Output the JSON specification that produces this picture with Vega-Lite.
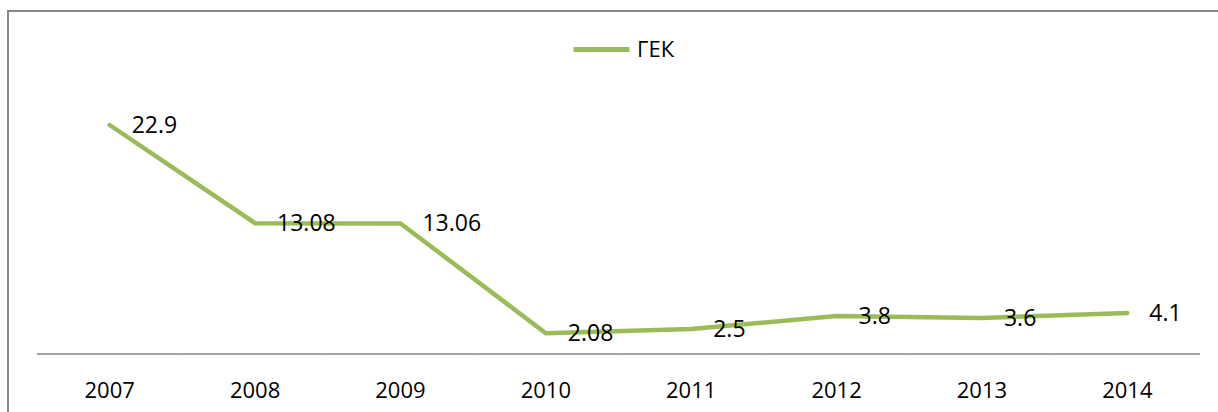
{
  "$schema": "https://vega.github.io/schema/vega-lite/v6.json",
  "usermeta": {"embedOptions": {"actions": false}},
  "width": 1230,
  "height": 421,
  "autosize": "none",
  "padding": {"left": 8, "top": 11, "right": -20, "bottom": -20},
  "background": "white",
  "config": {
    "view": {"stroke": "#878787", "strokeWidth": 2},
    "font": "Open Sans"
  },
  "data": {
    "values": [
      {"year": "2007", "value": 22.9, "label": "22.9", "series": "ГЕК"},
      {"year": "2008", "value": 13.08, "label": "13.08", "series": "ГЕК"},
      {"year": "2009", "value": 13.06, "label": "13.06", "series": "ГЕК"},
      {"year": "2010", "value": 2.08, "label": "2.08", "series": "ГЕК"},
      {"year": "2011", "value": 2.5, "label": "2.5", "series": "ГЕК"},
      {"year": "2012", "value": 3.8, "label": "3.8", "series": "ГЕК"},
      {"year": "2013", "value": 3.6, "label": "3.6", "series": "ГЕК"},
      {"year": "2014", "value": 4.1, "label": "4.1", "series": "ГЕК"}
    ]
  },
  "encoding": {
    "x": {
      "field": "year",
      "type": "ordinal",
      "bandPosition": 0.5,
      "scale": {"type": "band", "paddingInner": 0, "paddingOuter": 0.2304, "align": 0.4328},
      "axis": {
        "title": null,
        "domain": false,
        "ticks": false,
        "tickSize": 0,
        "grid": false,
        "offset": -78,
        "labelPadding": 26,
        "labelFont": "Open Sans",
        "labelFontSize": 22,
        "labelColor": "#000000",
        "labelAngle": 0,
        "labelBaseline": "top"
      }
    }
  },
  "layer": [
    {
      "mark": {"type": "bar", "fill": null, "fillOpacity": 0, "stroke": "#868686", "strokeWidth": 1.5},
      "encoding": {
        "x": {"field": "year", "type": "ordinal"},
        "y": {"datum": 0, "type": "quantitative", "scale": {"domain": [-7.8, 34.3], "nice": false, "zero": false}, "axis": null},
        "y2": {"datum": 0}
      }
    },
    {
      "mark": {"type": "line", "strokeWidth": 4.5, "strokeCap": "round"},
      "encoding": {
        "y": {"field": "value", "type": "quantitative", "axis": null},
        "color": {
          "field": "series",
          "type": "nominal",
          "scale": {"range": ["#9bbb59"]},
          "legend": {
            "title": null,
            "orient": "none",
            "legendX": 563,
            "legendY": 8,
            "padding": 0,
            "symbolType": "stroke",
            "symbolSize": 3136,
            "symbolStrokeWidth": 5,
            "labelOffset": 5,
            "labelFont": "Open Sans",
            "labelFontSize": 22,
            "labelColor": "#000000"
          }
        }
      }
    },
    {
      "mark": {"type": "text", "align": "left", "baseline": "middle", "dx": 22, "dy": 1, "font": "Open Sans", "fontSize": 23, "color": "#000000"},
      "encoding": {
        "y": {"field": "value", "type": "quantitative", "axis": null},
        "text": {"field": "label", "type": "nominal"}
      }
    }
  ]
}
